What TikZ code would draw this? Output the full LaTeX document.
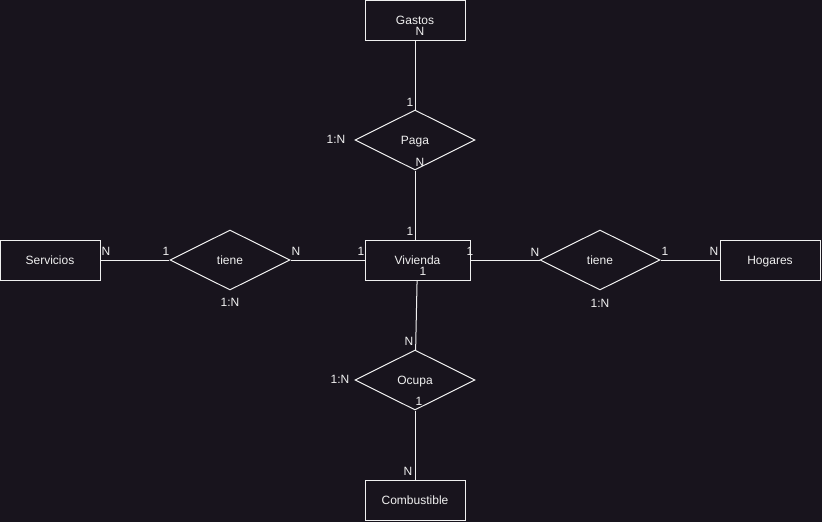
\documentclass[tikz,border=0pt]{standalone}
\usepackage{fontspec}
\setmainfont{Liberation Sans}
\usetikzlibrary{shapes.geometric,positioning}
\definecolor{bgdark}{HTML}{18141D}
\definecolor{fgline}{HTML}{F0F0F0}
\begin{document}
\begin{tikzpicture}[x=1pt, y=-1pt, node distance=120pt,
    every node/.style={text=fgline, font=\fontsize{12pt}{14pt}\selectfont},
    entity/.style={draw=fgline, line width=1pt, minimum width=100pt, minimum height=40pt, inner sep=0pt, text height=11pt, text depth=3pt},
    relation/.style={draw=fgline, line width=1pt, diamond, aspect=2, minimum width=120pt, minimum height=60pt, inner sep=0pt, text height=11pt, text depth=3pt},
    link/.style={draw=fgline, line width=1pt}]
    \fill[bgdark] (0,0) rectangle (822,522);
    \useasboundingbox (0,0) rectangle (822,522);
    \node[entity, minimum width=105pt] (viv) at (417.5,260) {Vivienda};
    \node[relation] (paga) [above of=viv, xshift=-2.5pt] {Paga};
    \node[entity] (gastos) [above of=paga] {Gastos};
    \node[relation] (ocupa) [below of=viv, xshift=-2.5pt] {Ocupa};
    \node[entity] (comb) [below of=ocupa] {Combustible};
    \node[relation, node distance=187.5pt] (tieneS) [left of=viv] {tiene};
    \node[entity, node distance=180pt] (serv) [left of=tieneS] {Servicios};
    \node[relation, node distance=182.5pt] (tieneH) [right of=viv] {tiene};
    \node[entity, node distance=170pt] (hog) [right of=tieneH] {Hogares};
    \draw[link] (gastos) -- (paga);
    \draw[link] (paga) -- (paga |- viv.north);
    \draw[link] (viv) -- (ocupa);
    \draw[link] (ocupa) -- (comb);
    \draw[link] (serv) -- (tieneS);
    \draw[link] (tieneS) -- (viv);
    \draw[link] (viv) -- (tieneH);
    \draw[link] (tieneH) -- (hog);
    % cardinalities
    \node (cGas) at (420,31) {N};
    \node (cPagaT) at (410,102) {1};
    \node (cPaga) at (336,139) {1:N};
    \node (cPagaB) at (420,162) {N};
    \node (cVivT) at (410,231) {1};
    \node (cVivL) at (361,251) {1};
    \node (cVivR) at (470,251) {1};
    \node (cVivB) at (423,271) {1};
    \node (cServ) at (106,251) {N};
    \node (cTSL) at (166,251) {1};
    \node (cTSR) at (296,251) {N};
    \node (cTS) at (230,302) {1:N};
    \node (cTHL) at (535,252) {N};
    \node (cTHR) at (665,251) {1};
    \node (cTH) at (600,303) {1:N};
    \node (cHog) at (714,251) {N};
    \node (cOcuT) at (409,341) {N};
    \node (cOcu) at (340,379) {1:N};
    \node (cOcuB) at (419,401) {1};
    \node (cComb) at (408,471) {N};
\end{tikzpicture}
\end{document}
